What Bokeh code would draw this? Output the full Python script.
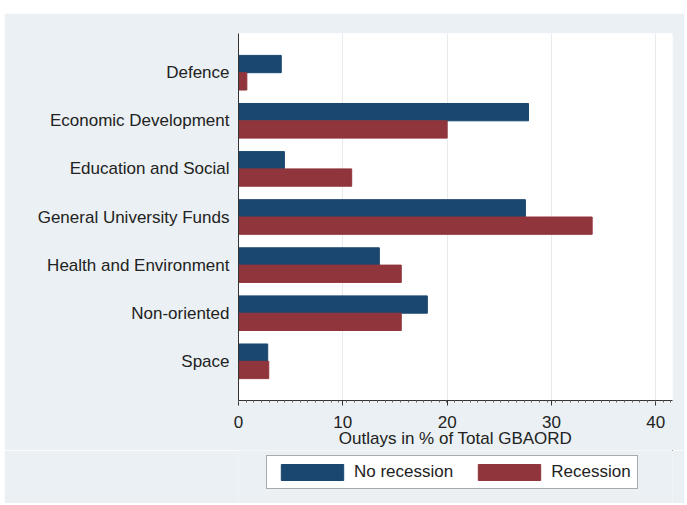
from bokeh.plotting import figure
from bokeh.layouts import column
from bokeh.models import ColumnDataSource, Legend, LegendItem, FactorRange, Range1d, FixedTicker
from bokeh.transform import dodge
from bokeh.embed import file_html
from bokeh.resources import INLINE

categories = ["Defence", "Economic Development", "Education and Social",
              "General University Funds", "Health and Environment",
              "Non-oriented", "Space"]
no_recession = [4.1, 27.8, 4.4, 27.5, 13.5, 18.1, 2.8]
recession = [0.8, 20.0, 10.85, 33.9, 15.6, 15.6, 2.9]
x_ticks = [0, 10, 20, 30, 40]
series_names = ["No recession", "Recession"]

BG = "#eaf0f3"
BLUE = "#1a476f"
RED = "#90353b"
FONT = "Liberation Sans"
TXT = "#222222"

src = ColumnDataSource(dict(cat=categories, nr=no_recession, r=recession))

p = figure(width=680, height=437, output_backend="svg", toolbar_location=None,
           y_range=FactorRange(factors=list(reversed(categories)), range_padding=0.09),
           x_range=Range1d(0, 41.6),
           min_border_left=234, min_border_right=12, min_border_top=20,
           min_border_bottom=48)
p.margin = (13, 0, 0, 4)

p.background_fill_color = "white"
p.border_fill_color = BG
p.outline_line_color = None

b1 = p.hbar(y=dodge("cat", 0.18, range=p.y_range), right="nr", left=0, height=0.36,
            source=src, fill_color=BLUE, line_color=BLUE)
b2 = p.hbar(y=dodge("cat", -0.18, range=p.y_range), right="r", left=0, height=0.36,
            source=src, fill_color=RED, line_color=RED)

minor = [round(i * 0.74, 3) for i in range(0, 57)]
p.xaxis.ticker = FixedTicker(ticks=x_ticks, minor_ticks=minor)
p.xaxis.axis_label = "Outlays in % of Total GBAORD"
p.xaxis.axis_label_text_font = FONT
p.xaxis.axis_label_text_font_size = "17px"
p.xaxis.axis_label_text_font_style = "normal"
p.xaxis.axis_label_text_color = TXT
p.xaxis.axis_label_standoff = -2
p.xaxis.major_label_text_font = FONT
p.xaxis.major_label_text_font_size = "17px"
p.xaxis.major_label_text_color = TXT
p.xaxis.major_label_standoff = 10
p.xaxis.axis_line_color = "#333333"
p.xaxis.major_tick_line_color = "#333333"
p.xaxis.major_tick_out = 5
p.xaxis.major_tick_in = 0
p.xaxis.minor_tick_line_color = "#666666"
p.xaxis.minor_tick_out = 2
p.xaxis.minor_tick_in = 0

p.yaxis.major_label_text_font = FONT
p.yaxis.major_label_text_font_size = "17px"
p.yaxis.major_label_text_color = TXT
p.yaxis.major_label_standoff = 3
p.yaxis.axis_line_color = "#333333"
p.yaxis.major_tick_line_color = None
p.yaxis.minor_tick_line_color = None

p.xgrid.grid_line_color = "#e6ebee"
p.xgrid.grid_line_width = 1
p.ygrid.grid_line_color = None

# legend panel below the chart
p2 = figure(width=680, height=53, output_backend="svg", toolbar_location=None,
            x_range=Range1d(-10, -9), y_range=Range1d(-10, -9),
            min_border_left=0, min_border_right=0, min_border_top=0, min_border_bottom=0)
p2.margin = (0, 0, 0, 4)
p2.axis.visible = False
p2.grid.visible = False
p2.outline_line_color = None
p2.background_fill_color = BG
p2.border_fill_color = BG
# legend-key renderers placed well outside the visible range of this panel
key_src = ColumnDataSource(dict(y=[5.0], nr=[no_recession[0]], r=[recession[0]]))
l1 = p2.hbar(y="y", right="nr", left=0, height=0.1, source=key_src,
             fill_color=BLUE, line_color=BLUE)
l2 = p2.hbar(y="y", right="r", left=0, height=0.1, source=key_src,
             fill_color=RED, line_color=RED)

legend = Legend(items=[LegendItem(label=series_names[0], renderers=[l1]),
                       LegendItem(label=series_names[1], renderers=[l2])],
                orientation="horizontal", location=(28, 14))
legend.label_text_font = FONT
legend.label_text_font_size = "17px"
legend.label_text_color = TXT
legend.glyph_width = 78
legend.glyph_height = 20
legend.spacing = 17
legend.padding = 6
legend.margin = 0
legend.label_standoff = 3
legend.border_line_color = "#555555"
legend.background_fill_color = "white"
legend.background_fill_alpha = 1
p2.add_layout(legend, "center")

layout = column(p, p2, spacing=0)
open("out.html", "w").write(file_html(layout, INLINE))
